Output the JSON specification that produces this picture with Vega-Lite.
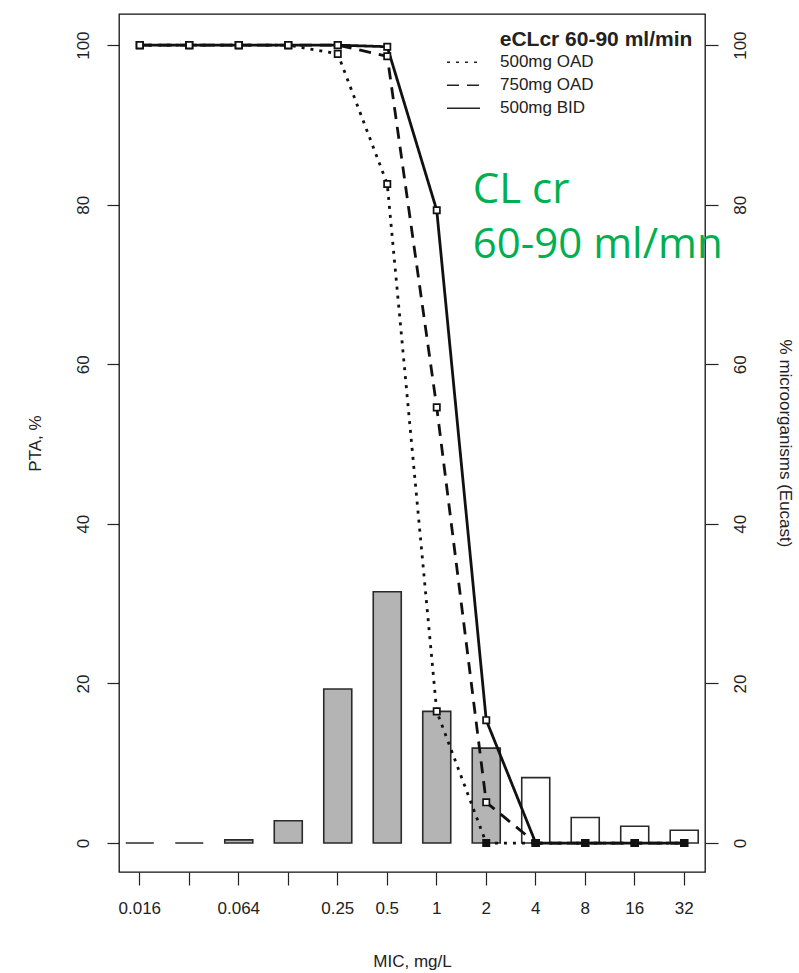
{
  "$schema": "https://vega.github.io/schema/vega-lite/v6.json",
  "width": 586,
  "height": 858,
  "autosize": {"type": "none"},
  "padding": {"left": 119, "top": 14, "right": 94, "bottom": 101},
  "background": "white",
  "config": {
    "view": {"stroke": "#111", "strokeWidth": 1.3},
    "font": "Liberation Sans",
    "axis": {
      "labelFont": "Liberation Sans",
      "titleFont": "Liberation Sans",
      "labelFontSize": 17,
      "titleFontSize": 17,
      "labelColor": "#222",
      "titleColor": "#222",
      "titleFontWeight": "normal",
      "tickColor": "#222",
      "tickWidth": 1.2,
      "domain": false,
      "grid": false
    }
  },
  "datasets": {
    "bars": [
      {"MIC": "0.016", "pct": 0, "group": "S"},
      {"MIC": "0.032", "pct": 0, "group": "S"},
      {"MIC": "0.064", "pct": 0.4, "group": "S"},
      {"MIC": "0.125", "pct": 2.8, "group": "S"},
      {"MIC": "0.25", "pct": 19.3, "group": "S"},
      {"MIC": "0.5", "pct": 31.5, "group": "S"},
      {"MIC": "1", "pct": 16.5, "group": "S"},
      {"MIC": "2", "pct": 11.9, "group": "S"},
      {"MIC": "4", "pct": 8.2, "group": "R"},
      {"MIC": "8", "pct": 3.2, "group": "R"},
      {"MIC": "16", "pct": 2.1, "group": "R"},
      {"MIC": "32", "pct": 1.6, "group": "R"}
    ],
    "pta": [
      {"MIC": "0.016", "regimen": "500mg OAD", "PTA": 100},
      {"MIC": "0.032", "regimen": "500mg OAD", "PTA": 100},
      {"MIC": "0.064", "regimen": "500mg OAD", "PTA": 100},
      {"MIC": "0.125", "regimen": "500mg OAD", "PTA": 100},
      {"MIC": "0.25", "regimen": "500mg OAD", "PTA": 98.9},
      {"MIC": "0.5", "regimen": "500mg OAD", "PTA": 82.6},
      {"MIC": "1", "regimen": "500mg OAD", "PTA": 16.5},
      {"MIC": "2", "regimen": "500mg OAD", "PTA": 0},
      {"MIC": "4", "regimen": "500mg OAD", "PTA": 0},
      {"MIC": "8", "regimen": "500mg OAD", "PTA": 0},
      {"MIC": "16", "regimen": "500mg OAD", "PTA": 0},
      {"MIC": "32", "regimen": "500mg OAD", "PTA": 0},
      {"MIC": "0.016", "regimen": "750mg OAD", "PTA": 100},
      {"MIC": "0.032", "regimen": "750mg OAD", "PTA": 100},
      {"MIC": "0.064", "regimen": "750mg OAD", "PTA": 100},
      {"MIC": "0.125", "regimen": "750mg OAD", "PTA": 100},
      {"MIC": "0.25", "regimen": "750mg OAD", "PTA": 100},
      {"MIC": "0.5", "regimen": "750mg OAD", "PTA": 98.6},
      {"MIC": "1", "regimen": "750mg OAD", "PTA": 54.6},
      {"MIC": "2", "regimen": "750mg OAD", "PTA": 5.1},
      {"MIC": "4", "regimen": "750mg OAD", "PTA": 0},
      {"MIC": "8", "regimen": "750mg OAD", "PTA": 0},
      {"MIC": "16", "regimen": "750mg OAD", "PTA": 0},
      {"MIC": "32", "regimen": "750mg OAD", "PTA": 0},
      {"MIC": "0.016", "regimen": "500mg BID", "PTA": 100},
      {"MIC": "0.032", "regimen": "500mg BID", "PTA": 100},
      {"MIC": "0.064", "regimen": "500mg BID", "PTA": 100},
      {"MIC": "0.125", "regimen": "500mg BID", "PTA": 100},
      {"MIC": "0.25", "regimen": "500mg BID", "PTA": 100},
      {"MIC": "0.5", "regimen": "500mg BID", "PTA": 99.8},
      {"MIC": "1", "regimen": "500mg BID", "PTA": 79.3},
      {"MIC": "2", "regimen": "500mg BID", "PTA": 15.4},
      {"MIC": "4", "regimen": "500mg BID", "PTA": 0},
      {"MIC": "8", "regimen": "500mg BID", "PTA": 0},
      {"MIC": "16", "regimen": "500mg BID", "PTA": 0},
      {"MIC": "32", "regimen": "500mg BID", "PTA": 0}
    ],
    "notes": [
      {"MIC": "1", "value": 81.8, "label": "CL cr\n60-90 ml/mn"}
    ],
    "legendtitle": [
      {"MIC": "4", "value": 100.6, "label": "eCLcr 60-90 ml/min"}
    ]
  },
  "encoding": {
    "x": {
      "field": "MIC",
      "type": "ordinal",
      "sort": ["0.016", "0.032", "0.064", "0.125", "0.25", "0.5", "1", "2", "4", "8", "16", "32"],
      "scale": {"type": "band", "paddingInner": 0.434, "paddingOuter": 0.137},
      "axis": {
        "title": "MIC, mg/L",
        "labelAngle": 0,
        "tickSize": 13,
        "labelPadding": 15,
        "titlePadding": 37,
        "labelExpr": "datum.label == '0.032' || datum.label == '0.125' ? '' : datum.label"
      }
    }
  },
  "layer": [
    {
      "data": {"name": "bars"},
      "mark": {"type": "bar", "stroke": "#2a2a2a", "strokeWidth": 1.6},
      "encoding": {
        "y": {
          "field": "pct",
          "type": "quantitative",
          "scale": {"domain": [-3.63, 103.9], "nice": false, "zero": false},
          "axis": {
            "orient": "right",
            "title": "% microorganisms (Eucast)",
            "values": [0, 20, 40, 60, 80, 100],
            "labelAngle": -90,
            "tickSize": 13,
            "labelPadding": 14,
            "titlePadding": 27
          }
        },
        "fill": {
          "field": "group",
          "type": "nominal",
          "scale": {"domain": ["S", "R"], "range": ["#b4b4b4", "#ffffff"]},
          "legend": null
        }
      }
    },
    {
      "encoding": {
        "y": {
          "field": "PTA",
          "type": "quantitative",
          "scale": {"domain": [-3.63, 103.9], "nice": false, "zero": false},
          "axis": {
            "orient": "left",
            "title": "PTA, %",
            "values": [0, 20, 40, 60, 80, 100],
            "labelAngle": -90,
            "tickSize": 12,
            "labelPadding": 15,
            "titlePadding": 30
          }
        }
      },
      "layer": [
        {
          "data": {"name": "pta"},
          "mark": {"type": "line", "color": "#111", "strokeWidth": 2.8, "interpolate": "linear", "strokeCap": "butt", "strokeJoin": "round"},
          "encoding": {
            "strokeDash": {
              "field": "regimen",
              "type": "nominal",
              "scale": {"domain": ["500mg OAD", "750mg OAD", "500mg BID"], "range": [[3, 6], [12, 8], [1, 0]]},
              "legend": {
                "title": null,
                "orient": "none",
                "legendX": 327,
                "legendY": 37,
                "padding": 0,
                "symbolType": "stroke",
                "symbolSize": 1089,
                "symbolStrokeWidth": 1.4,
                "symbolStrokeColor": "#222",
                "labelFont": "Liberation Sans",
                "labelFontSize": 17,
                "labelColor": "#222",
                "labelOffset": 19,
                "rowPadding": 0,
                "clipHeight": 22.5,
                "encode": {
                  "symbols": {
                    "update": {
                      "strokeDash": {"signal": "datum.value == '500mg OAD' ? [2, 2] : datum.value == '750mg OAD' ? [3, 2.5] : [1, 0]"},
                      "size": {"value": 1089}
                    }
                  }
                }
              }
            }
          }
        },
        {
          "data": {"name": "pta"},
          "mark": {"type": "point", "shape": "square", "size": 40, "stroke": "#111", "strokeWidth": 1.7, "opacity": 1},
          "encoding": {
            "detail": {"field": "regimen"},
            "fill": {"condition": {"test": "datum.PTA === 0", "value": "#111"}, "value": "white"}
          }
        },
        {
          "data": {"name": "notes"},
          "mark": {"type": "text", "align": "left", "baseline": "middle", "dx": 36, "font": "Open Sans", "fontSize": 42, "color": "#00b050", "lineBreak": "\n", "lineHeight": 55},
          "encoding": {
            "y": {"field": "value", "type": "quantitative"},
            "text": {"field": "label"}
          }
        },
        {
          "data": {"name": "legendtitle"},
          "mark": {"type": "text", "align": "left", "baseline": "middle", "dx": -36, "font": "Liberation Sans", "fontSize": 21, "fontWeight": "bold", "color": "#222"},
          "encoding": {
            "y": {"field": "value", "type": "quantitative"},
            "text": {"field": "label"}
          }
        }
      ]
    }
  ],
  "resolve": {"scale": {"y": "independent"}, "axis": {"y": "independent"}}
}
